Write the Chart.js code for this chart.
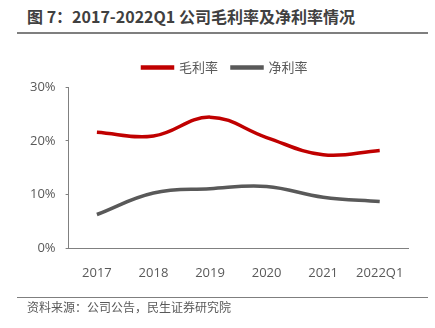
<!DOCTYPE html>
<html><head><meta charset="utf-8">
<script src="https://cdn.jsdelivr.net/npm/chart.js@4/dist/chart.umd.min.js"></script>
<style>
html,body{margin:0;padding:0;background:#fff;}
body{width:435px;height:328px;position:relative;overflow:hidden;font-family:"Noto Sans CJK SC","Noto Sans",sans-serif;}
#title{position:absolute;left:27px;top:4px;font-size:16px;font-weight:bold;color:#404040;white-space:nowrap;}
#tline{position:absolute;left:17px;top:32px;width:411px;height:2px;background:#7f7f7f;}
#bline{position:absolute;left:17px;top:297px;width:411px;height:1px;background:#7f7f7f;}
#src{position:absolute;left:27px;top:298px;font-size:12px;color:#595959;white-space:nowrap;}
#wrap{position:absolute;left:0;top:0;width:435px;height:328px;}
</style></head>
<body>
<div id="title">图 7：2017-2022Q1 公司毛利率及净利率情况</div>
<div id="tline"></div>
<div id="wrap"><canvas id="c"></canvas></div>
<div id="bline"></div>
<div id="src">资料来源：公司公告，民生证券研究院</div>
<script>
const categories = ["2017","2018","2019","2020","2021","2022Q1"];
const grossMargin = [21.6, 20.9, 24.4, 20.6, 17.4, 18.2];
const netMargin = [6.3, 10.3, 11.1, 11.5, 9.5, 8.7];
const seriesNames = ["毛利率","净利率"];
const yTicks = [0, 10, 20, 30];

const fontFam = '"Open Sans","Noto Sans CJK SC",sans-serif';
const legendMargin = {
  id: 'legendMargin',
  beforeInit(chart) {
    const origFit = chart.legend.fit;
    chart.legend.fit = function() { origFit.bind(chart.legend)(); this.height += 3; };
  },
  afterLayout(chart) {
    chart.legend.left += 22;
  }
};
new Chart(document.getElementById('c'), {
  type: 'line',
  data: {
    labels: categories,
    datasets: [
      {label: seriesNames[0], data: grossMargin, borderColor: '#C00000', backgroundColor: '#C00000', borderWidth: 3.5, pointRadius: 0, tension: 0.4, fill: false},
      {label: seriesNames[1], data: netMargin, borderColor: '#595959', backgroundColor: '#595959', borderWidth: 3.5, pointRadius: 0, tension: 0.4, fill: false}
    ]
  },
  plugins: [legendMargin],
  options: {
    responsive: true,
    maintainAspectRatio: false,
    animation: false,
    layout: {padding: {left: 20, right: 27, top: 47, bottom: 38}},
    plugins: {
      legend: {
        display: true,
        position: 'top',
        labels: {boxWidth: 30, boxHeight: 1, color: '#595959', font: {family: '"Noto Sans CJK SC",sans-serif', size: 13}, padding: 14}
      },
      tooltip: {enabled: false}
    },
    scales: {
      x: {
        offset: true,
        grid: {display: false, offset: true},
        border: {display: true, color: '#808080', width: 1},
        ticks: {color: '#595959', font: {family: fontFam, size: 13}, padding: 9, maxRotation: 0}
      },
      y: {
        min: 0, max: 30,
        afterBuildTicks: (axis) => { axis.ticks = yTicks.map(v => ({value: v})); },
        grid: {drawOnChartArea: false, drawTicks: true, tickLength: 3, color: '#808080'},
        border: {display: true, color: '#808080', width: 1},
        ticks: {color: '#595959', font: {family: fontFam, size: 13}, padding: 10, callback: v => v + '%'}
      }
    }
  }
});
</script>
</body></html>
